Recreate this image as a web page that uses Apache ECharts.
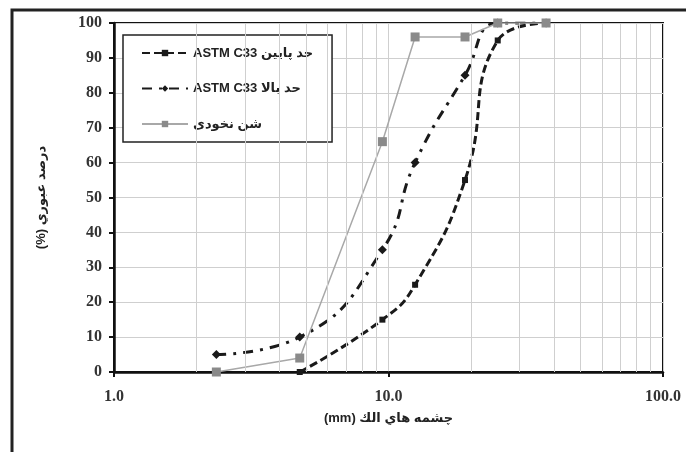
<!DOCTYPE html>
<html>
<head>
<meta charset="utf-8">
<script src="https://cdn.jsdelivr.net/npm/echarts@6/dist/echarts.min.js"></script>
<style>
  html, body { margin: 0; padding: 0; background: #fff; }
  #main { width: 686px; height: 452px; }
</style>
</head>
<body>
<div id="main"></div>
<script>
// sieve sizes (mm) and percent passing
var lowerSizes = [4.75, 9.5, 12.5, 19, 25, 37.5];
var lowerPass = [0, 15, 25, 55, 95, 100];
var upperSizes = [2.36, 4.75, 9.5, 12.5, 19, 25, 37.5];
var upperPass = [5, 10, 35, 60, 85, 100, 100];
var gravelSizes = [2.36, 4.75, 9.5, 12.5, 19, 25, 37.5];
var gravelPass = [0, 4, 66, 96, 96, 100, 100];

var seriesNames = ['ASTM C33 حد پایین', 'ASTM C33 حد بالا', 'شن نخودی'];
// minor log grid lines
var minorTicks = [2, 3, 4, 5, 6, 7, 8, 9, 20, 30, 40, 50, 60, 70, 80, 90];

function pairs(xs, ys) {
    return xs.map(function (x, i) { return [x, ys[i]]; });
}

var tickFont = { fontFamily: 'Liberation Serif', fontWeight: 'bold', fontSize: 16, color: '#333' };
var arFont = 'Liberation Sans, DejaVu Sans';

var myChart = echarts.init(document.getElementById('main'));
var option = {
    backgroundColor: '#fff',
    animation: false,
    graphic: [{
        type: 'rect',
        shape: { x: 12, y: 10, width: 700, height: 500 },
        style: { fill: 'none', stroke: '#222', lineWidth: 3 },
        silent: true
    }],
    grid: { left: 114, right: 23, top: 23, bottom: 80, show: true, borderColor: '#111', borderWidth: 2 },
    legend: {
        orient: 'vertical',
        left: 123,
        top: 35,
        backgroundColor: '#fff',
        borderColor: '#222',
        borderWidth: 1.5,
        padding: [11, 19, 11, 18],
        itemWidth: 46,
        itemHeight: 8,
        itemGap: 21.5,
        textStyle: { fontFamily: arFont, fontWeight: 'bold', fontSize: 13, lineHeight: 14, color: '#222' },
        data: seriesNames
    },
    xAxis: {
        type: 'log',
        logBase: 10,
        min: 1,
        max: 100,
        name: '(mm) چشمه هاي الك',
        nameLocation: 'middle',
        nameGap: 40,
        nameTextStyle: { fontFamily: arFont, fontSize: 13, fontWeight: 'bold', color: '#222' },
        axisLine: { lineStyle: { color: '#111', width: 2.5 } },
        axisTick: { show: true, length: 5, lineStyle: { color: '#111', width: 2 } },
        axisLabel: Object.assign({ margin: 17, formatter: function (v) { return Number(v).toFixed(1); } }, tickFont),
        splitLine: { show: true, lineStyle: { color: '#cfcfcf', width: 1 } }
    },
    yAxis: {
        type: 'value',
        min: 0,
        max: 100,
        interval: 10,
        name: '(%) درصد عبوري',
        nameLocation: 'middle',
        nameGap: 66,
        nameTextStyle: { fontFamily: arFont, fontSize: 13, fontWeight: 'bold', color: '#222' },
        axisLine: { show: true, lineStyle: { color: '#111', width: 2.5 } },
        axisTick: { show: true, length: 5, lineStyle: { color: '#111', width: 2 } },
        axisLabel: Object.assign({ margin: 12 }, tickFont),
        splitLine: { show: true, lineStyle: { color: '#cfcfcf', width: 1 } }
    },
    series: [{
        type: 'line',
        name: 'grid',
        data: [],
        silent: true,
        z: 1,
        markLine: {
            silent: true,
            symbol: 'none',
            label: { show: false },
            lineStyle: { color: '#cfcfcf', width: 1, type: 'solid' },
            data: minorTicks.map(function (v) { return { xAxis: v }; })
        }
    }, {
        type: 'line',
        name: seriesNames[0],
        data: pairs(lowerSizes, lowerPass),
        smooth: 0.5,
        symbol: 'rect',
        symbolSize: 6,
        color: '#1a1a1a',
        lineStyle: { color: '#1a1a1a', width: 3, type: [8, 4] },
        itemStyle: { color: '#1a1a1a' },
        z: 3
    }, {
        type: 'line',
        name: seriesNames[1],
        data: pairs(upperSizes, upperPass),
        smooth: 0.5,
        symbol: 'diamond',
        symbolSize: 9,
        color: '#1a1a1a',
        lineStyle: { color: '#1a1a1a', width: 3, type: [10, 7, 3, 7] },
        itemStyle: { color: '#1a1a1a' },
        z: 3
    }, {
        type: 'line',
        name: seriesNames[2],
        data: pairs(gravelSizes, gravelPass),
        symbol: 'rect',
        symbolSize: 9,
        color: '#8a8a8a',
        lineStyle: { color: '#a8a8a8', width: 1.5 },
        itemStyle: { color: '#8a8a8a' },
        z: 4
    }]
};
myChart.setOption(option);
</script>
</body>
</html>
